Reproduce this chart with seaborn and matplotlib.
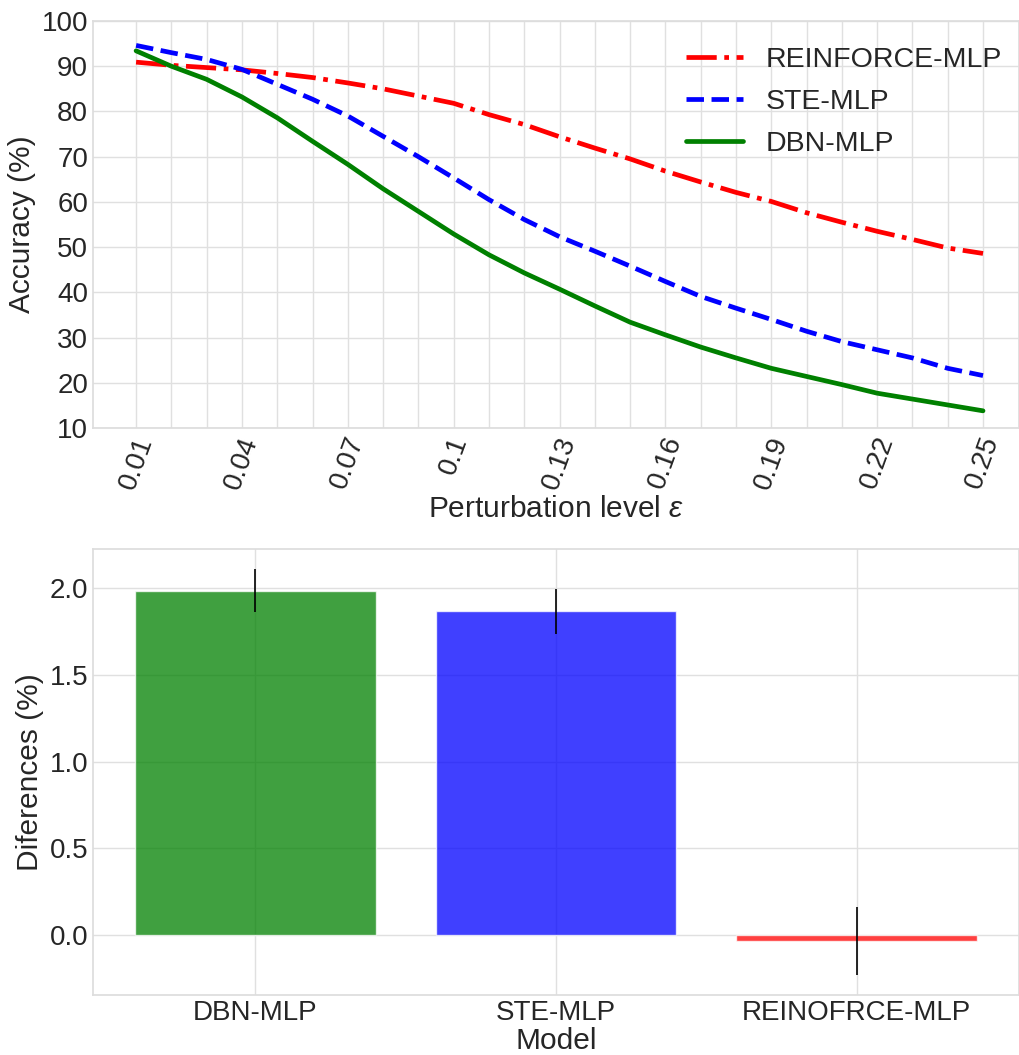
import numpy as np
import pandas as pd
import matplotlib
matplotlib.use("Agg")
import matplotlib.pyplot as plt
import seaborn as sns

# Perturbation levels and accuracy curves (%)
eps = [0.01, 0.02, 0.03, 0.04, 0.05, 0.06, 0.07, 0.08, 0.09, 0.10, 0.11, 0.12, 0.13,
       0.14, 0.15, 0.16, 0.17, 0.18, 0.19, 0.20, 0.21, 0.22, 0.23, 0.24, 0.25]
reinforce_acc = [90.9, 90.2, 89.7, 89.2, 88.4, 87.5, 86.3, 85.0, 83.4, 81.8, 79.3, 77.1, 74.4,
                 71.9, 69.5, 66.8, 64.4, 62.1, 60.1, 57.6, 55.5, 53.5, 51.7, 49.8, 48.6]
ste_acc = [94.6, 93.0, 91.5, 89.3, 86.0, 82.7, 79.0, 74.5, 70.0, 65.3, 60.5, 56.1, 52.3,
           49.1, 45.8, 42.4, 39.1, 36.5, 34.0, 31.4, 29.1, 27.3, 25.5, 23.2, 21.6]
dbn_acc = [93.4, 90.0, 87.1, 83.2, 78.6, 73.4, 68.3, 62.9, 57.9, 52.9, 48.3, 44.3, 40.7,
           37.0, 33.4, 30.6, 27.9, 25.5, 23.2, 21.4, 19.6, 17.7, 16.4, 15.1, 13.8]
tick_eps = [0.01, 0.04, 0.07, 0.1, 0.13, 0.16, 0.19, 0.22, 0.25]

# Mean accuracy differences (%) and their spread
models = ["DBN-MLP", "STE-MLP", "REINOFRCE-MLP"]
diff_mean = [1.985, 1.868, -0.034]
diff_err = [0.125, 0.130, 0.195]
bar_colors = ["green", "blue", "red"]

sns.set_theme(style="whitegrid")
plt.rcParams["font.family"] = ["Liberation Sans", "DejaVu Sans"]
plt.rcParams["mathtext.fontset"] = "custom"
plt.rcParams["mathtext.rm"] = "Liberation Sans"
plt.rcParams["mathtext.it"] = "Liberation Sans:italic"
TICK_FS = 20
LABEL_FS = 21.5
LEGEND_FS = 20.5

fig = plt.figure(figsize=(10.19, 10.55), dpi=100)
ax1 = fig.add_axes([0.0913, 0.5943, 0.9087, 0.3858])
ax2 = fig.add_axes([0.0913, 0.0569, 0.9087, 0.4227])

curves = pd.DataFrame({"eps": eps, "REINFORCE-MLP": reinforce_acc,
                       "STE-MLP": ste_acc, "DBN-MLP": dbn_acc})
styles = [("REINFORCE-MLP", "red", "-."), ("STE-MLP", "blue", "--"), ("DBN-MLP", "green", "-")]
for name, col, ls in styles:
    sns.lineplot(data=curves, x="eps", y=name, ax=ax1, color=col, linestyle=ls,
                 linewidth=3.4, label=name)

ax1.set_xlim(-0.0022, 0.2602)
ax1.set_ylim(10, 100)
ax1.set_yticks(np.arange(10, 101, 10))
ax1.set_xticks(tick_eps)
ax1.set_xticks(eps, minor=True)
ax1.set_xticklabels([f"{v:g}" for v in tick_eps], rotation=70)
ax1.grid(True, which="both", axis="x", color="#e0e0e0", linewidth=1)
ax1.grid(True, which="major", axis="y", color="#e0e0e0", linewidth=1)
ax1.tick_params(axis="both", which="both", labelsize=TICK_FS, length=0)
ax1.set_xlabel(r"Perturbation level $\varepsilon$", fontsize=LABEL_FS, labelpad=2)
ax1.set_ylabel("Accuracy (%)", fontsize=LABEL_FS)
ax1.legend(loc="upper right", bbox_to_anchor=(1.009, 1.0), frameon=False,
           fontsize=LEGEND_FS, labelspacing=0.56)

bars = pd.DataFrame({"model": models, "diff": diff_mean})
sns.barplot(data=bars, x="model", y="diff", hue="model", palette=bar_colors,
            errorbar=None, alpha=0.75, saturation=1, width=0.8, legend=False, ax=ax2)
ax2.errorbar(range(len(models)), diff_mean, yerr=diff_err, fmt="none",
             ecolor="black", elinewidth=1.2, capsize=0)
ax2.set_xlim(-0.54, 2.54)
ax2.set_ylim(-0.346, 2.226)
ax2.set_yticks([0.0, 0.5, 1.0, 1.5, 2.0])
ax2.grid(True, axis="both", color="#e0e0e0", linewidth=1)
ax2.set_axisbelow(True)
ax2.tick_params(axis="both", labelsize=TICK_FS, length=0)
ax2.set_xlabel("Model", fontsize=LABEL_FS, labelpad=1)
ax2.set_ylabel("Diferences (%)", fontsize=LABEL_FS)

for ax in (ax1, ax2):
    for sp in ax.spines.values():
        sp.set_color("#dddddd")

fig.savefig("out.png", dpi=100)
